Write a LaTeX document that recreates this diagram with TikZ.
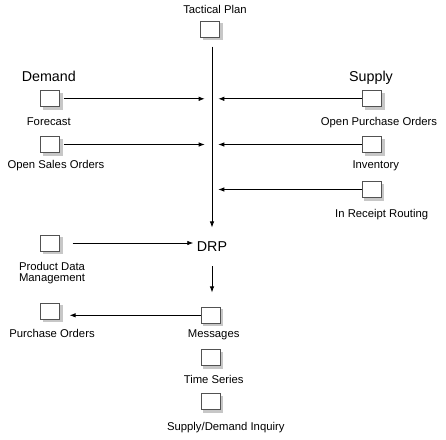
\documentclass[tikz,border=0pt]{standalone}
\usepackage{fontspec}
\setmainfont{Liberation Sans}
\usetikzlibrary{arrows.meta,backgrounds}
\begin{document}
\begin{tikzpicture}[x=1pt,y=-1pt,
  box/.style={draw=black!68, fill=white, line width=1pt, minimum width=19pt, minimum height=16pt, inner sep=0pt},
  shade/.style={fill=black!22, draw=none},
  lbl/.style={font=\fontsize{11.3}{13.5}\selectfont, anchor=base, inner sep=0pt},
  big/.style={font=\fontsize{14.3}{16}\selectfont, anchor=base, inner sep=0pt},
  arr/.style={line width=0.8pt, -{Latex[length=6pt,width=4.5pt]}}]
\useasboundingbox (0,0) rectangle (446,439);
% boxes
\node[box] (tac) at (210,29) {};
\node[box] (fc) at (50.3,98.8) {};
\node[box] (opo) at (372,98.8) {};
\node[box] (oso) at (50.3,144.5) {};
\node[box] (inv) at (372,144.5) {};
\node[box] (irr) at (371.8,189.5) {};
\node[box] (pdm) at (50.3,243) {};
\node[box] (po) at (50.3,311) {};
\node[box] (msg) at (210.7,315.3) {};
\node[box] (ts) at (210.7,357.5) {};
\node[box] (sdi) at (210.7,401.5) {};
\begin{scope}[on background layer]
\foreach \n in {tac,fc,opo,oso,inv,irr,pdm,po,msg,ts,sdi}
  \fill[shade] ([shift={(2.6,2.6)}]\n.north west) rectangle ([shift={(2.6,2.6)}]\n.south east);
\end{scope}
% labels
\node[lbl] (tacL) at (215,13.5) {Tactical Plan};
\node[big] (demL) at (48.8,81.7) {Demand};
\node[big] (supL) at (371,81.7) {Supply};
\node[lbl] (fcL) at (48.8,125) {Forecast};
\node[lbl] (opoL) at (379,125) {Open Purchase Orders};
\node[lbl] (osoL) at (56,168.3) {Open Sales Orders};
\node[lbl] (invL) at (375.8,168.3) {Inventory};
\node[lbl] (irrL) at (381.7,217) {In Receipt Routing};
\node[lbl] (pdmL1) at (52,270) {Product Data};
\node[lbl] (pdmL2) at (52,281.7) {Management};
\node[big] (drp) at (212,251.5) {DRP};
\node[lbl] (poL) at (52,337) {Purchase Orders};
\node[lbl] (msgL) at (213.7,337) {Messages};
\node[lbl] (tsL) at (213.7,383.3) {Time Series};
\node[lbl] (sdiL) at (225.8,430.5) {Supply/Demand Inquiry};
% connectors
\draw[arr, shorten <=9pt, shorten >=14pt] (tac.south -| drp.north) -- (drp.north);
\draw[arr, shorten <=3.3pt, shorten >=7.3pt] (fc.east) -- (fc.east -| drp.north);
\draw[arr, shorten <=3.3pt, shorten >=7.3pt] (oso.east) -- (oso.east -| drp.north);
\draw[arr, shorten >=6.3pt] (opo.west) -- (opo.west -| drp.north);
\draw[arr, shorten >=6.3pt] (inv.west) -- (inv.west -| drp.north);
\draw[arr, shorten >=6.3pt] (irr.west) -- (irr.west -| drp.north);
\draw[arr, shorten <=12.3pt, shorten >=3.4pt] (pdm.east) -- (pdm.east -| drp.west);
\draw[arr, shorten <=14.5pt, shorten >=14.4pt] (drp.south) -- (drp.south |- msg.north);
\draw[arr, shorten >=9.3pt] (msg.west) -- (msg.west -| po.east);
\end{tikzpicture}
\end{document}
